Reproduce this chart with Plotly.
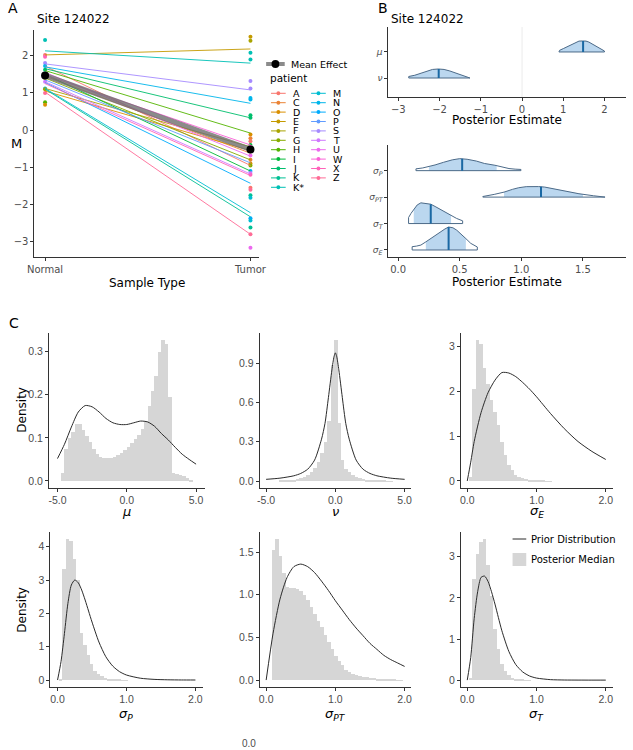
import math
import numpy as np
import plotly.graph_objects as go

W, H = 633, 750

# ---------------- DATA ----------------
# Panel A
patients = ["A", "C", "D", "E", "F", "G", "H", "I", "J", "K", "K*",
            "M", "N", "O", "P", "S", "T", "U", "W", "X", "Z"]
normal_fit = [1.72, 1.45, 1.05, 2.02, 1.12, 1.40, 1.60, 1.50, 1.65, 1.10, 2.13,
              1.12, 1.70, 1.28, 1.35, 1.78, 1.30, 1.55, 1.48, 1.25, 1.02]
tumor_fit = [-0.95, -0.62, -0.55, 2.18, -0.45, -0.80, -0.08, -1.10, 0.33, -2.33, 1.80,
             -2.22, 0.72, -1.43, -0.88, 1.08, -1.18, -0.70, -0.40, -1.22, -2.80]
sample_types = ["Normal", "Tumor"]
obs_patient = ["K*", "A", "X", "H", "D", "S", "N", "J", "G", "T", "M", "Z", "F",
               "E", "F", "K*", "K*", "S", "S", "N", "N", "J", "J", "D", "C", "A", "I",
               "W", "U", "C", "D", "G", "O", "T", "X", "A", "Z", "K", "M", "O", "M",
               "K", "Z", "U"]
obs_type = ["Normal"] * 13 + ["Tumor"] * 31
obs_value = [2.42, 2.02, 1.97, 0.75, 0.68, 1.80, 1.72, 1.62, 1.40, 1.30, 1.12, 1.00, 1.10,
             2.51, 2.40, 2.08, 1.90, 1.32, 1.12, 0.86, 0.82, 0.40, 0.33, -0.12, -0.22, -0.30, -0.40,
             -0.45, -0.68, -0.80, -0.90, -0.95, -1.10, -1.15, -1.20, -1.55, -1.60, -1.75, -1.82,
             -2.37, -2.43, -2.62, -2.80, -3.16]
mean_effect = [1.47, -0.52]

# Panel B (posterior densities)
b_top_params = ["μ", "ν"]
mu_post_x = [0.894, 0.91, 1.0, 1.1, 1.2, 1.3, 1.38, 1.46, 1.55, 1.62, 1.7, 1.8, 1.9, 1.998]
mu_post_d = [0.05, 0.27, 0.55, 0.9, 1.25, 1.62, 1.78, 1.8, 1.78, 1.62, 1.32, 0.95, 0.55, 0.16]
mu_post_med = 1.48
nu_post_x = [-2.746, -2.6, -2.45, -2.3, -2.17, -2.03, -1.89, -1.75, -1.6, -1.45, -1.263]
nu_post_d = [0.25, 0.45, 0.75, 1.1, 1.4, 1.47, 1.4, 1.15, 0.8, 0.48, 0.08]
nu_post_med = -2.02

sP_post_x = [0.145, 0.20, 0.25, 0.30, 0.37, 0.44, 0.50, 0.56, 0.635, 0.70, 0.786, 0.85, 0.90, 0.95, 0.997]
sP_post_d = [0.3, 0.45, 0.65, 0.95, 1.4, 1.8, 2.0, 1.9, 1.6, 1.2, 0.9, 0.55, 0.35, 0.25, 0.2]
sP_post = dict(med=0.52, lo=0.25, hi=0.80)
sPT_post_x = [0.688, 0.78, 0.86, 0.93, 0.979, 1.04, 1.085, 1.14, 1.19, 1.26, 1.323, 1.40, 1.468, 1.587, 1.68]
sPT_post_d = [0.1, 0.45, 0.83, 1.3, 1.56, 1.74, 1.78, 1.75, 1.67, 1.4, 1.11, 0.8, 0.56, 0.22, 0.06]
sPT_post = dict(med=1.16, lo=0.86, hi=1.50)
sT_post_x = [0.085, 0.105, 0.127, 0.155, 0.185, 0.22, 0.265, 0.30, 0.344, 0.385, 0.429, 0.475, 0.524]
sT_post_d = [1.0, 1.7, 2.35, 3.1, 3.45, 3.4, 3.22, 2.85, 2.35, 1.85, 1.4, 0.85, 0.45]
sT_post = dict(med=0.265, lo=0.127, hi=0.43)
sE_post_x = [0.114, 0.15, 0.185, 0.225, 0.265, 0.30, 0.344, 0.38, 0.41, 0.445, 0.476, 0.51, 0.55, 0.59, 0.635, 0.643]
sE_post_d = [0.55, 0.65, 0.82, 1.35, 1.9, 2.5, 3.0, 3.5, 3.83, 3.7, 3.3, 2.7, 1.9, 1.1, 0.55, 0.5]
sE_post = dict(med=0.41, lo=0.225, hi=0.55)

# Panel C histograms (posterior medians) : bin start, bin width, densities
mu_hist_start, mu_hist_width = -4.75, 0.25
mu_hist = [0.02, 0.075, 0.10, 0.115, 0.133, 0.133, 0.12, 0.105, 0.09, 0.075, 0.063, 0.057,
           0.054, 0.053, 0.054, 0.056, 0.06, 0.066, 0.073, 0.08, 0.088, 0.097, 0.108, 0.122,
           0.14, 0.175, 0.21, 0.245, 0.30, 0.328, 0.318, 0.196, 0.02, 0.018, 0.015, 0.012,
           0.007, 0.003]
nu_hist_start, nu_hist_width = -4.125, 0.25
nu_hist = [0.003, 0.004, 0.006, 0.008, 0.011, 0.016, 0.024, 0.034, 0.048, 0.068, 0.10,
           0.15, 0.22, 0.30, 0.46, 0.887, 1.083, 0.446, 0.165, 0.095, 0.07, 0.05, 0.036,
           0.026, 0.019, 0.014, 0.01, 0.007, 0.005, 0.004, 0.003, 0.002, 0.001]
sE_hist_start, sE_hist_width = 0.025, 0.05
sE_hist = [0.1, 2.07, 3.16, 3.07, 2.52, 2.18, 1.82, 1.55, 1.25, 0.88, 0.58, 0.37, 0.25,
           0.15, 0.10, 0.07, 0.05, 0.035, 0.025, 0.018, 0.012, 0.008, 0.005, 0.003]
sP_hist_start, sP_hist_width = 0.025, 0.05
sP_hist = [0.05, 3.35, 4.25, 4.18, 3.65, 3.0, 1.42, 1.05, 0.77, 0.48, 0.28, 0.18, 0.12,
           0.08, 0.05, 0.035, 0.025, 0.015, 0.01, 0.006]
sPT_hist_start, sPT_hist_width = 0.075, 0.05
sPT_hist = [1.53, 1.66, 1.46, 1.26, 1.10, 1.08, 1.08, 1.07, 1.05, 1.0, 0.94, 0.86, 0.78,
            0.70, 0.62, 0.53, 0.45, 0.37, 0.29, 0.23, 0.18, 0.125, 0.10, 0.08, 0.065, 0.05,
            0.04, 0.035, 0.03, 0.025, 0.02, 0.016, 0.013, 0.01, 0.007, 0.005, 0.003, 0.002]
sT_hist_start, sT_hist_width = 0.025, 0.05
sT_hist = [0.05, 2.47, 3.08, 3.37, 3.45, 2.8, 2.05, 1.26, 0.77, 0.40, 0.24, 0.12, 0.07,
           0.04, 0.025, 0.015, 0.01, 0.005]

# Panel C prior curves
mu_prior_x = [-5, -4.5, -4, -3.5, -3, -2.5, -2, -1.5, -1, -0.5, 0, 0.5, 1, 1.5, 2, 2.5, 3, 3.5, 4, 4.5, 5]
mu_prior_y = [0.052, 0.085, 0.125, 0.16, 0.175, 0.172, 0.16, 0.145, 0.135, 0.131, 0.131, 0.135,
              0.139, 0.137, 0.127, 0.11, 0.095, 0.078, 0.062, 0.05, 0.039]
nu_prior_x = [-5, -4, -3, -2.5, -2, -1.5, -1, -0.75, -0.5, -0.25, -0.1, 0, 0.1, 0.25, 0.5, 0.75, 1, 1.5, 2, 2.5, 3, 4, 5]
nu_prior_y = [0.013, 0.022, 0.04, 0.058, 0.09, 0.16, 0.32, 0.44, 0.64, 0.85, 0.95, 0.98, 0.95,
              0.85, 0.64, 0.44, 0.32, 0.16, 0.09, 0.058, 0.04, 0.022, 0.013]
sE_prior_x = [0, 0.05, 0.1, 0.2, 0.3, 0.4, 0.5, 0.6, 0.7, 0.8, 0.9, 1.0, 1.2, 1.4, 1.6, 1.8, 2.0]
sE_prior_y = [0, 0.42, 0.88, 1.53, 1.97, 2.25, 2.42, 2.41, 2.33, 2.2, 2.05, 1.88, 1.51, 1.17, 0.88, 0.66, 0.48]
sP_prior_x = [0, 0.05, 0.1, 0.15, 0.2, 0.25, 0.3, 0.35, 0.4, 0.45, 0.5, 0.6, 0.7, 0.8, 0.9, 1.0, 1.2, 1.4, 1.6, 1.8, 2.0]
sP_prior_y = [0, 0.55, 1.4, 2.3, 2.85, 3.0, 2.92, 2.7, 2.4, 2.07, 1.74, 1.14, 0.7, 0.42, 0.25,
              0.15, 0.055, 0.02, 0.007, 0.002, 0.001]
sPT_prior_x = [0, 0.1, 0.2, 0.3, 0.4, 0.5, 0.6, 0.7, 0.8, 0.9, 1.0, 1.1, 1.2, 1.3, 1.4, 1.5, 1.6, 1.7, 1.8, 1.9, 2.0]
sPT_prior_y = [0, 0.55, 0.95, 1.2, 1.33, 1.36, 1.33, 1.26, 1.16, 1.05, 0.93, 0.82, 0.71, 0.61,
               0.52, 0.43, 0.36, 0.29, 0.24, 0.2, 0.16]
sT_prior_x = [0, 0.05, 0.1, 0.15, 0.2, 0.25, 0.3, 0.35, 0.4, 0.45, 0.5, 0.6, 0.7, 0.8, 0.9, 1.0, 1.2, 1.4, 1.6, 1.8, 2.0]
sT_prior_y = [0, 0.55, 1.5, 2.15, 2.5, 2.53, 2.4, 2.15, 1.85, 1.52, 1.2, 0.7, 0.38, 0.2, 0.1,
              0.05, 0.012, 0.003, 0.001, 0, 0]

# ---------------- STYLE HELPERS ----------------
FONT = "DejaVu Sans"
CFONT = "Liberation Sans"
AXC = "#333333"
TXC = "#4D4D4D"


def hue_color(h, c=100.0, l=65.0):
    hr = math.radians(h)
    U, V = c * math.cos(hr), c * math.sin(hr)
    Xn, Yn, Zn = 95.047, 100.0, 108.883
    Y = Yn * ((l + 16) / 116) ** 3
    t = Xn + 15 * Yn + 3 * Zn
    un, vn = 4 * Xn / t, 9 * Yn / t
    u, v = U / (13 * l) + un, V / (13 * l) + vn
    X = 9 * Y * u / (4 * v)
    Z = -X / 3 - 5 * Y + 3 * Y / v
    X, Y, Z = X / 100, Y / 100, Z / 100
    r = 3.240479 * X - 1.537150 * Y - 0.498535 * Z
    g = -0.969256 * X + 1.875992 * Y + 0.041556 * Z
    b = 0.055648 * X - 0.204043 * Y + 1.057311 * Z

    def gam(cc):
        cc = 12.92 * cc if cc <= 0.0031308 else 1.055 * cc ** (1 / 2.4) - 0.055
        return min(max(cc, 0), 1)
    return "#%02X%02X%02X" % tuple(int(round(gam(q) * 255)) for q in (r, g, b))


n_pat = len(patients)
pal = {p: hue_color(15 + i * 360.0 / n_pat) for i, p in enumerate(patients)}


def xdom(a, b):
    return [a / W, b / W]


def ydom(top, bottom):
    return [1 - bottom / H, 1 - top / H]


def px(x):
    return x / W


def py(y):
    return 1 - y / H


def axis(**kw):
    d = dict(showgrid=False, zeroline=False, showline=True, linecolor=AXC, linewidth=1,
             ticks="outside", ticklen=3, tickwidth=1, tickcolor=AXC,
             tickfont=dict(family=FONT, size=10, color=TXC), fixedrange=True)
    d.update(kw)
    return d


fig = go.Figure()
annos = []
shapes = []


def text(x, y, s, size=12, anchor="center", color="black", family=FONT, angle=0):
    annos.append(dict(x=px(x), y=py(y), xref="paper", yref="paper", text=s, showarrow=False,
                      xanchor=anchor, yanchor="middle", textangle=angle, borderpad=0,
                      font=dict(family=family, size=size, color=color)))


# ---------------- PANEL A ----------------
sx = {s: i for i, s in enumerate(sample_types)}
fig.add_trace(go.Scatter(x=[sx[t] for t in obs_type], y=obs_value, mode="markers",
                         marker=dict(size=4, color=[pal[p] for p in obs_patient]),
                         xaxis="x", yaxis="y", showlegend=False, hoverinfo="skip"))
for i, p in enumerate(patients):
    fig.add_trace(go.Scatter(x=[0, 1], y=[normal_fit[i], tumor_fit[i]], mode="lines",
                             line=dict(color=pal[p], width=0.9), xaxis="x", yaxis="y",
                             showlegend=False, hoverinfo="skip"))
fig.add_trace(go.Scatter(x=[0, 1], y=mean_effect, mode="lines",
                         line=dict(color="rgba(110,110,110,0.8)", width=5),
                         xaxis="x", yaxis="y", showlegend=False, hoverinfo="skip"))
fig.add_trace(go.Scatter(x=[0, 1], y=mean_effect, mode="markers",
                         marker=dict(size=8, color="black"),
                         xaxis="x", yaxis="y", showlegend=False, hoverinfo="skip"))

layout_axes = {}
layout_axes["xaxis"] = axis(domain=xdom(28, 258), range=[-0.052, 1.043], anchor="y",
                            tickvals=[0, 1], ticktext=sample_types)
layout_axes["yaxis"] = axis(domain=ydom(30, 257), range=[-3.41, 2.69], anchor="x",
                            tickvals=[-3, -2, -1, 0, 1, 2])

text(6, 8, "A", 14)
text(30, 19, "Site 124022", 12, "left")
text(10, 143, "M", 13)
text(143, 283, "Sample Type", 12)

# Legend A (manual)
shapes.append(dict(type="line", xref="paper", yref="paper", x0=px(265), x1=px(284), y0=py(64), y1=py(64),
                   line=dict(color="rgba(110,110,110,0.8)", width=4)))
shapes.append(dict(type="circle", xref="paper", yref="paper", x0=px(270.5), x1=px(278.5),
                   y0=py(68), y1=py(60), fillcolor="black", line=dict(width=0)))
text(289, 64, "Mean Effect", 9.5, "left")
text(268, 78, "patient", 10.5, "left")
for i, p in enumerate(patients):
    col = 0 if i < 11 else 1
    row = i if i < 11 else i - 11
    x0 = 270 + col * 41
    yy = 93.3 + row * 9.4
    shapes.append(dict(type="line", xref="paper", yref="paper", x0=px(x0), x1=px(x0 + 15),
                       y0=py(yy), y1=py(yy), line=dict(color=pal[p], width=1)))
    shapes.append(dict(type="circle", xref="paper", yref="paper", x0=px(x0 + 5.5), x1=px(x0 + 9.5),
                       y0=py(yy + 2), y1=py(yy - 2), fillcolor=pal[p], line=dict(width=0)))
    text(x0 + 21, yy, p, 9.5, "left")

# ---------------- PANEL B ----------------
FILL = "#BBD7EF"
OUTL = "#4C6A88"
MEDC = "#1A68A3"


def ridge(xs, ds, row, scale, xa, ya, lo=None, hi=None, med=None):
    xs = np.asarray(xs, float)
    ds = np.asarray(ds, float)
    ty = row + ds * scale
    ox = [xs[0]] + list(xs) + [xs[-1], xs[0]]
    oy = [row] + list(ty) + [row, row]
    fig.add_trace(go.Scatter(x=ox, y=oy, mode="lines", fill="toself", fillcolor="white",
                             line=dict(width=0), xaxis=xa, yaxis=ya, showlegend=False, hoverinfo="skip"))
    if lo is None:
        lo, hi = xs[0], xs[-1]
    inner = xs[(xs > lo) & (xs < hi)]
    ix = [lo] + list(inner) + [hi]
    iy = list(row + np.interp(ix, xs, ds) * scale)
    fig.add_trace(go.Scatter(x=ix + [hi, lo, lo], y=iy + [row, row, iy[0]], mode="lines", fill="toself",
                             fillcolor=FILL, line=dict(width=0), xaxis=xa, yaxis=ya,
                             showlegend=False, hoverinfo="skip"))
    fig.add_trace(go.Scatter(x=ox, y=oy, mode="lines", line=dict(color=OUTL, width=1),
                             xaxis=xa, yaxis=ya, showlegend=False, hoverinfo="skip"))
    fig.add_trace(go.Scatter(x=[med, med], y=[row, row + float(np.interp(med, xs, ds)) * scale],
                             mode="lines", line=dict(color=MEDC, width=2), xaxis=xa, yaxis=ya,
                             showlegend=False, hoverinfo="skip"))


ridge(mu_post_x, mu_post_d, 2, 0.235, "x2", "y2", med=mu_post_med)
ridge(nu_post_x, nu_post_d, 1, 0.235, "x2", "y2", med=nu_post_med)
ridge(sP_post_x, sP_post_d, 4, 0.227, "x3", "y3", **sP_post)
ridge(sPT_post_x, sPT_post_d, 3, 0.227, "x3", "y3", **sPT_post)
ridge(sT_post_x, sT_post_d, 2, 0.227, "x3", "y3", **sT_post)
ridge(sE_post_x, sE_post_d, 1, 0.227, "x3", "y3", **sE_post)

layout_axes["xaxis2"] = axis(domain=xdom(390, 633), range=[-3.24, 2.52], anchor="y2",
                             tickvals=[-3, -2, -1, 0, 1, 2])
layout_axes["yaxis2"] = axis(domain=ydom(27, 97), range=[0.27, 2.96], anchor="x2",
                             tickvals=[2, 1], ticktext=["<i>" + s + "</i>" for s in b_top_params],
                             tickfont=dict(family=FONT, size=9, color=TXC))
layout_axes["xaxis3"] = axis(domain=xdom(390, 633), range=[-0.079, 1.85], anchor="y3",
                             tickvals=[0, 0.5, 1.0, 1.5], ticktext=["0.0", "0.5", "1.0", "1.5"])
layout_axes["yaxis3"] = axis(domain=ydom(145, 257), range=[0.735, 4.97], anchor="x3",
                             tickvals=[4, 3, 2, 1],
                             ticktext=["<i>σ<sub>P</sub></i>", "<i>σ<sub>PT</sub></i>",
                                       "<i>σ<sub>T</sub></i>", "<i>σ<sub>E</sub></i>"],
                             tickfont=dict(family=FONT, size=9, color=TXC))
shapes.append(dict(type="line", xref="x2", yref="y2 domain", x0=0, x1=0, y0=0, y1=1,
                   line=dict(color="#EBEBEB", width=1), layer="below"))

text(385, 8, "B", 14)
text(392, 19, "Site 124022", 12, "left")
text(511, 120, "Posterior Estimate", 12)
text(511, 282, "Posterior Estimate", 12)

# ---------------- PANEL C ----------------
GRAY = "#D6D6D6"
LINEC = "#2B2B2B"
c_panels = [
    (mu_hist, mu_hist_start, mu_hist_width, mu_prior_x, mu_prior_y, (43, 202), (332.7, 487.7),
     [-5.61, 5.61], [-0.0156, 0.344], ([-5, 0, 5], ["-5.0", "0.0", "5.0"]),
     ([0, 0.1, 0.2, 0.3], ["0.0", "0.1", "0.2", "0.3"]), "<i>μ</i>"),
    (nu_hist, nu_hist_start, nu_hist_width, nu_prior_x, nu_prior_y, (258.3, 413.3), (332.7, 487.7),
     [-5.47, 5.47], [-0.051, 1.134], ([-5, 0, 5], ["-5.0", "0.0", "5.0"]),
     ([0, 0.3, 0.6, 0.9], ["0.0", "0.3", "0.6", "0.9"]), "<i>ν</i>"),
    (sE_hist, sE_hist_start, sE_hist_width, sE_prior_x, sE_prior_y, (464.3, 619.3), (332.7, 487.7),
     [-0.09, 2.099], [-0.15, 3.31], ([0, 1, 2], ["0.0", "1.0", "2.0"]),
     ([0, 1, 2, 3], ["0", "1", "2", "3"]), "<i>σ<sub>E</sub></i>"),
    (sP_hist, sP_hist_start, sP_hist_width, sP_prior_x, sP_prior_y, (44.3, 200), (531.7, 686.7),
     [-0.105, 2.104], [-0.2, 4.45], ([0, 1, 2], ["0.0", "1.0", "2.0"]),
     ([0, 1, 2, 3, 4], ["0", "1", "2", "3", "4"]), "<i>σ<sub>P</sub></i>"),
    (sPT_hist, sPT_hist_start, sPT_hist_width, sPT_prior_x, sPT_prior_y, (258.3, 413.3), (531.7, 686.7),
     [-0.095, 2.095], [-0.078, 1.74], ([0, 1, 2], ["0.0", "1.0", "2.0"]),
     ([0, 0.5, 1.0, 1.5], ["0.0", "0.5", "1.0", "1.5"]), "<i>σ<sub>PT</sub></i>"),
    (sT_hist, sT_hist_start, sT_hist_width, sT_prior_x, sT_prior_y, (464.3, 619.3), (531.7, 686.7),
     [-0.09, 2.099], [-0.16, 3.61], ([0, 1, 2], ["0.0", "1.0", "2.0"]),
     ([0, 1, 2, 3], ["0", "1", "2", "3"]), "<i>σ<sub>T</sub></i>"),
]

for k, (hist, start, width, prx, pry, xd, yd, xr, yr, xt, yt, title) in enumerate(c_panels):
    n = k + 4
    xa, ya = "x%d" % n, "y%d" % n
    centers = start + width * (np.arange(len(hist)) + 0.5)
    fig.add_trace(go.Bar(x=centers, y=hist, width=width, marker=dict(color=GRAY, line=dict(width=0)),
                         xaxis=xa, yaxis=ya, showlegend=False, hoverinfo="skip"))
    fig.add_trace(go.Scatter(x=prx, y=pry, mode="lines",
                             line=dict(color=LINEC, width=1, shape="spline", smoothing=0.7),
                             xaxis=xa, yaxis=ya, showlegend=False, hoverinfo="skip"))
    cf = dict(family=CFONT, size=10.5, color=TXC)
    layout_axes["xaxis%d" % n] = axis(domain=xdom(*xd), range=xr, anchor=ya,
                                      tickvals=xt[0], ticktext=xt[1], tickfont=cf)
    layout_axes["yaxis%d" % n] = axis(domain=ydom(*yd), range=yr, anchor=xa,
                                      tickvals=yt[0], ticktext=yt[1], tickfont=cf)
    ty = 511 if yd[0] < 500 else 714
    text((xd[0] + xd[1]) / 2, ty, title, 13)

text(7, 323, "C", 14)
text(15, 410, "Density", 12, angle=-90)
text(15, 610, "Density", 12, angle=-90)

# legend C
shapes.append(dict(type="line", xref="paper", yref="paper", x0=px(517), x1=px(531), y0=py(539), y1=py(539),
                   line=dict(color=LINEC, width=1)))
shapes.append(dict(type="rect", xref="paper", yref="paper", x0=px(517), x1=px(531), y0=py(566), y1=py(553),
                   fillcolor=GRAY, line=dict(width=0)))
text(535, 539, "Prior Distribution", 10, "left")
text(535, 559.5, "Posterior Median", 10, "left")

text(247, 743, "0.0", 10, family=CFONT, color=TXC)

fig.update_layout(width=W, height=H, autosize=False, margin=dict(l=0, r=0, t=0, b=0),
                  paper_bgcolor="white", plot_bgcolor="white", showlegend=False,
                  annotations=annos, shapes=shapes, bargap=0, **layout_axes)

fig.write_html("out.html", config={"displayModeBar": False},
               post_script="document.body.style.margin='0';document.body.style.padding='0';")
